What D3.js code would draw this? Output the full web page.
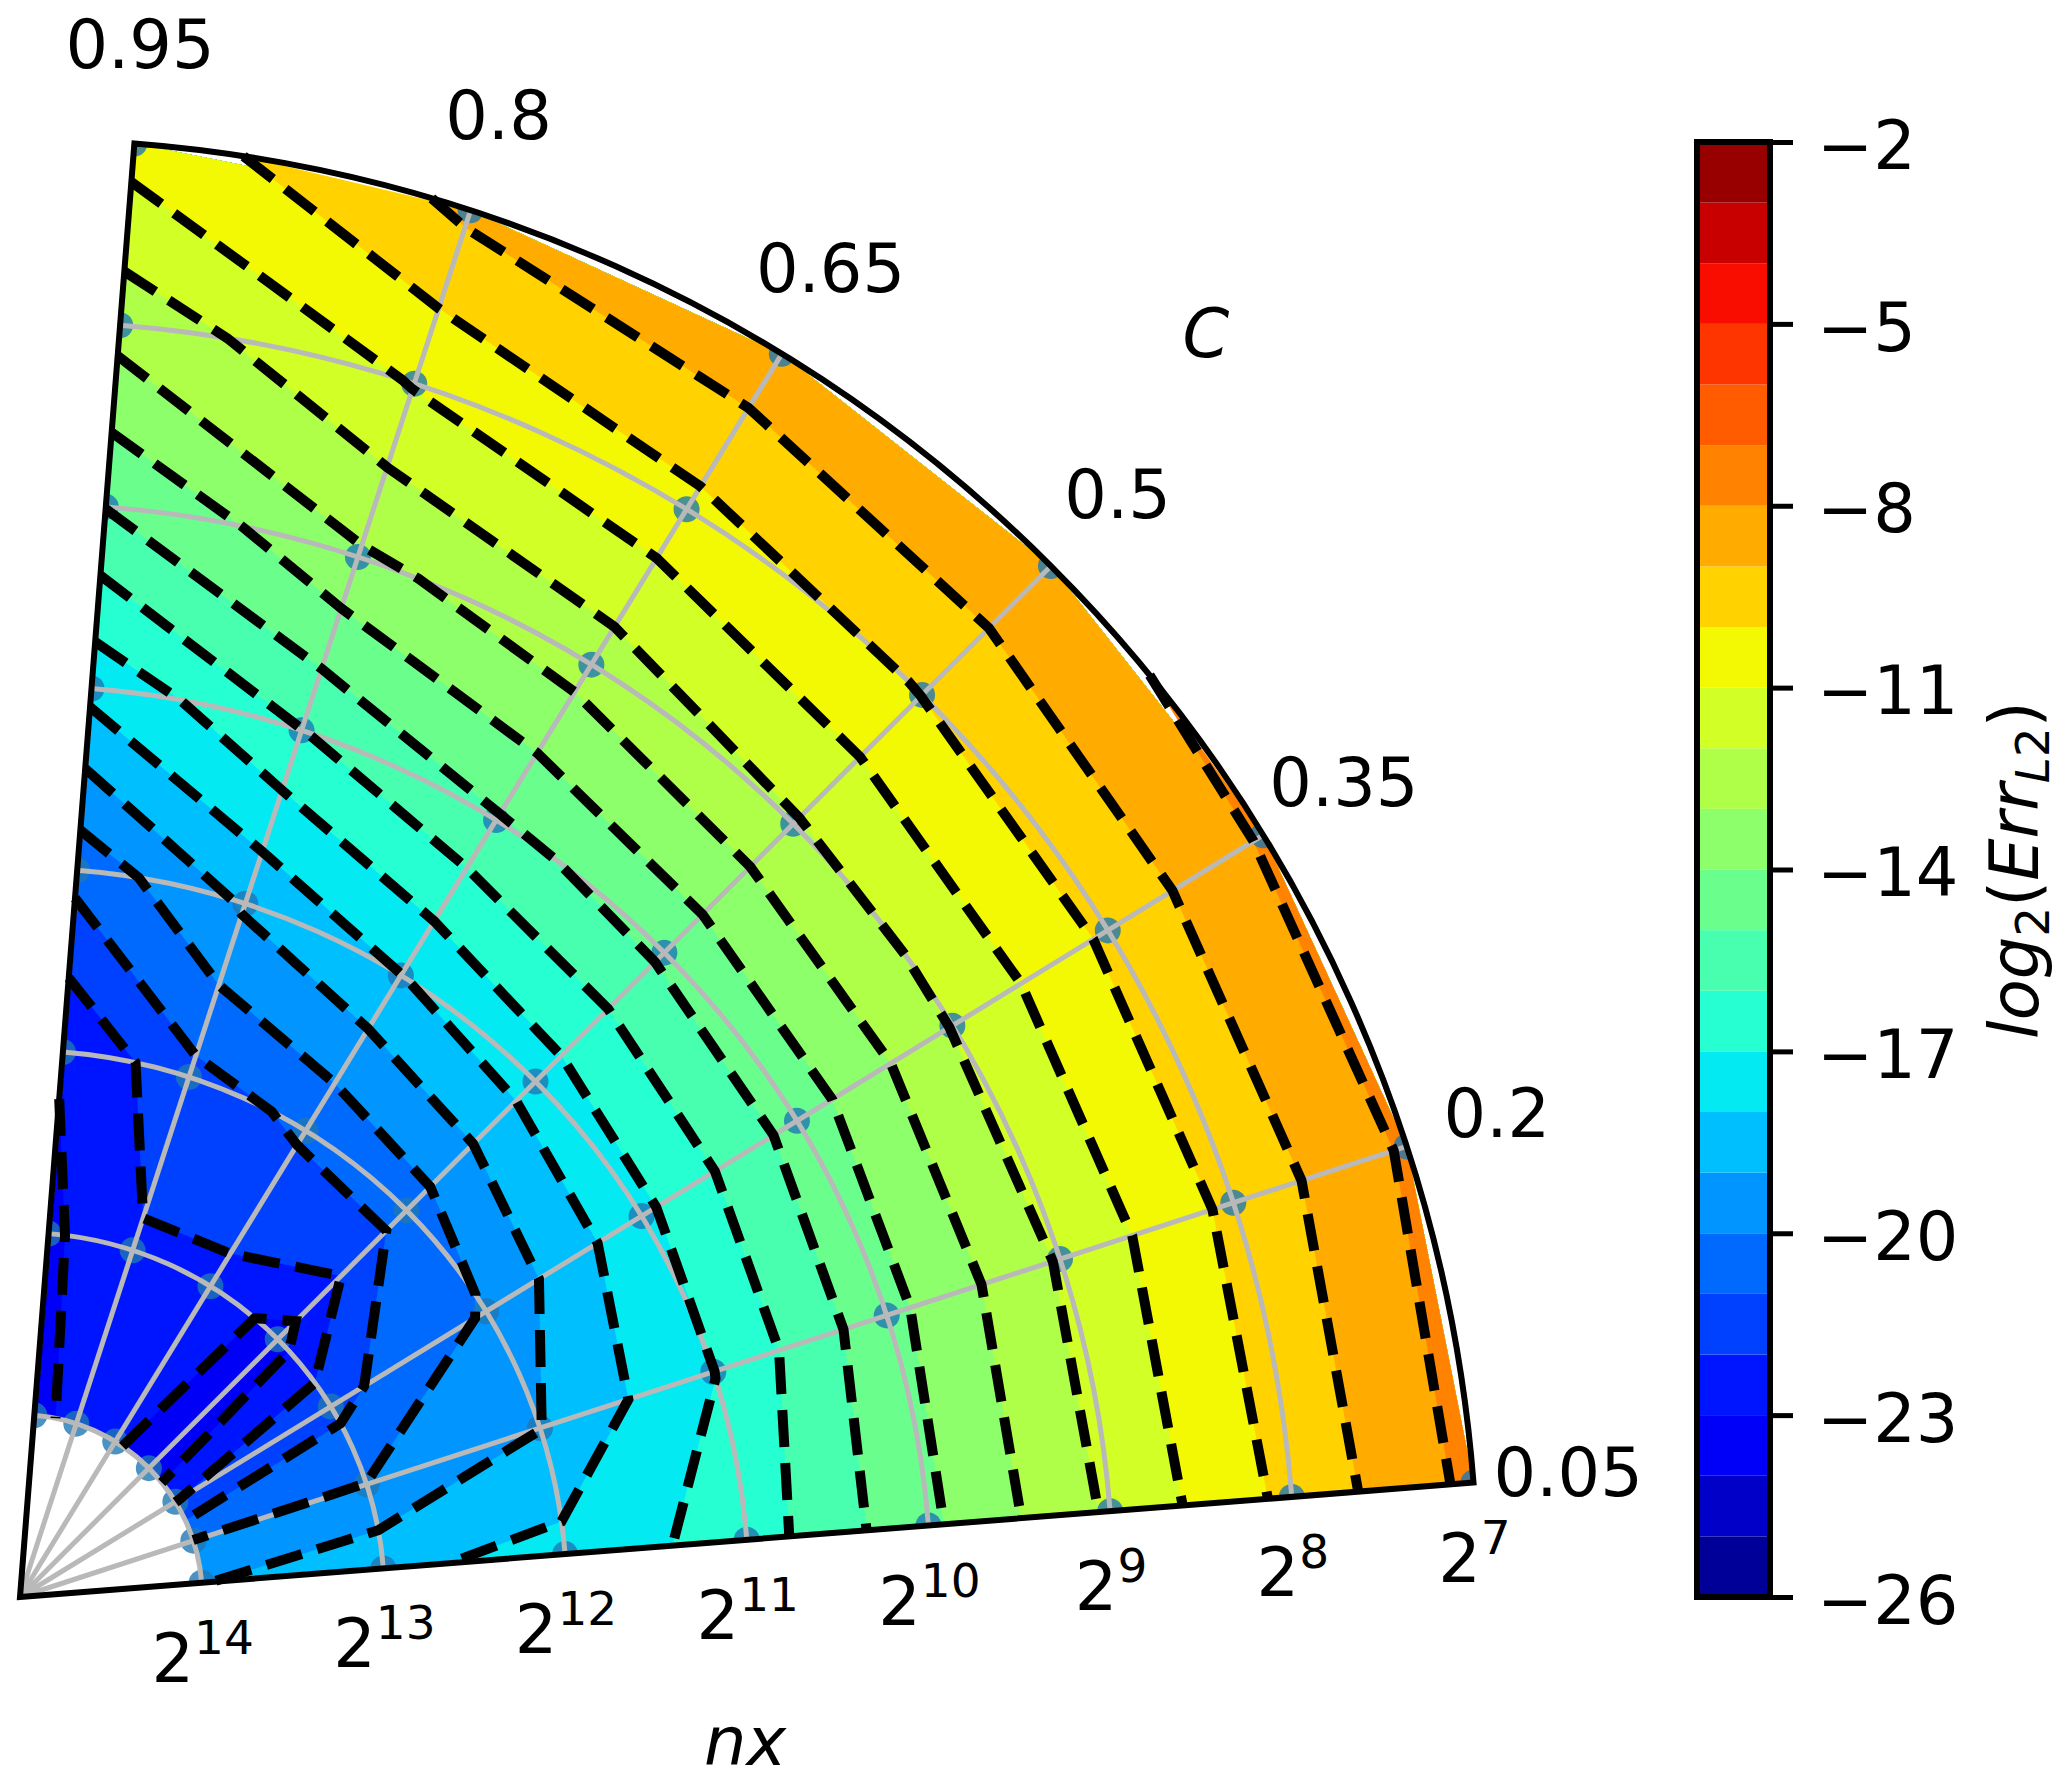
<!doctype html>
<html lang="en">
<head>
    <meta charset="UTF-8">
    <title>log2(Err L2) over nx and C</title>
    <script src="https://cdnjs.cloudflare.com/ajax/libs/d3/7.8.5/d3.min.js"></script>
    <style type="text/css">
        body {
            margin: 0;
            background: #fff;
        }

        text {
            font-family: "DejaVu Sans", sans-serif;
            font-size: 67px;
            fill: #000;
        }
    </style>
</head>
<body>

<script type="text/javascript">
    var nx_exp = [7, 8, 9, 10, 11, 12, 13, 14];
    var c_labels = ["0.05", "0.2", "0.35", "0.5", "0.65", "0.8", "0.95"];
    var c_values = [0.05, 0.2, 0.35, 0.5, 0.65, 0.8, 0.95];

    // log2(Err) per C, from nx = 2^7 to 2^14
    var err_c05 = [-7.75, -9.72, -11.85, -14.2, -16.55, -17.65, -18.2, -19.05];
    var err_c20 = [-7.86, -9.74, -11.9, -14.33, -17.02, -19.02, -19.98, -19.97];
    var err_c35 = [-7.88, -9.8, -11.95, -14.6, -17.25, -19.9, -21.3, -22.02];
    var err_c50 = [-8.09, -9.98, -12.1, -14.8, -17.55, -20.55, -23.4, -23.8];
    var err_c65 = [-8.31, -10.29, -12.55, -15.1, -18.02, -20.87, -22.3, -22.8];
    var err_c80 = [-8.79, -10.93, -13.15, -16.02, -18.85, -21.3, -22.16, -22.7];
    var err_c95 = [-10.57, -12.6, -14.97, -17.7, -20.65, -22.93, -23.2, -23.3];
    var err_rows = [err_c05, err_c20, err_c35, err_c50, err_c65, err_c80, err_c95];

    var levels = d3.range(-26, -2);
    var cbar_ticks = [-26, -23, -20, -17, -14, -11, -8, -5, -2];

    var w = 2067;
    var h = 1783;
    var cx = 20;
    var cy = 1597;
    var r_max = 1458;

    // matplotlib jet
    var jet_r = d3.scaleLinear().domain([0, 0.35, 0.66, 0.89, 1]).range([0, 0, 1, 1, 0.5]);
    var jet_g = d3.scaleLinear().domain([0, 0.125, 0.375, 0.64, 0.91, 1]).range([0, 0, 1, 1, 0, 0]);
    var jet_b = d3.scaleLinear().domain([0, 0.11, 0.34, 0.65, 1]).range([0.5, 1, 1, 0, 0]);

    function jet(t) {
        return d3.rgb(jet_r(t) * 255, jet_g(t) * 255, jet_b(t) * 255).formatHex();
    }

    function band_color(level) {
        return jet((level + 0.5 + 26) / 24);
    }

    var r_scale = d3.scaleLinear().domain([0, 8]).range([0, r_max]);
    var theta_scale = d3.scaleLinear().domain([0, 1]).range([0, Math.PI / 2]);

    // nx exponent -> radius units, 2^7 is outermost
    function nx_radius(e) {
        return r_scale(15 - e);
    }

    function polar(r, theta) {
        return [cx + r * Math.cos(theta), cy - r * Math.sin(theta)];
    }

    // d3.contours puts samples at x + 0.5, clamp so the polygons stop at the outer samples
    var n = nx_exp.length;
    var m = c_values.length;
    var grid_to_nx = d3.scaleLinear().domain([0.5, n - 0.5]).range([0, n - 1]).clamp(true);
    var grid_to_c = d3.scaleLinear().domain([0.5, m - 0.5]).range([0, m - 1]).clamp(true);
    var idx_to_exp = d3.scaleLinear().domain([0, n - 1]).range([nx_exp[0], nx_exp[n - 1]]);
    var idx_to_c = d3.scaleLinear().domain([0, m - 1]).range([c_values[0], c_values[m - 1]]);

    function grid_point(p) {
        return [grid_to_nx(p[0]), grid_to_c(p[1])];
    }

    function project(g) {
        return polar(nx_radius(idx_to_exp(g[0])), theta_scale(idx_to_c(g[1])));
    }

    var flat = [];
    err_rows.forEach(function (row) {
        row.forEach(function (v) {
            flat.push(v);
        });
    });

    var contours = d3.contours().size([n, m]).thresholds(levels)(flat);
    var line = d3.line();

    function fill_path(d) {
        var out = "";
        d.coordinates.forEach(function (poly) {
            poly.forEach(function (ring) {
                out += line(ring.map(function (p) {
                    return project(grid_point(p));
                })) + "Z";
            });
        });
        return out;
    }

    function on_edge(a, b) {
        if (a[0] === b[0] && (a[0] === 0 || a[0] === n - 1)) return true;
        if (a[1] === b[1] && (a[1] === 0 || a[1] === m - 1)) return true;
        return false;
    }

    // contour lines are the polygon rings minus whatever runs along the grid boundary
    function line_path(d) {
        var out = "";
        d.coordinates.forEach(function (poly) {
            poly.forEach(function (ring) {
                var pts = ring.map(grid_point);
                var count = pts.length - 1;
                var start = -1;
                for (var i = 0; i < count; i++) {
                    if (on_edge(pts[i], pts[i + 1])) {
                        start = i + 1;
                        break;
                    }
                }
                var current = [];
                var first = start < 0 ? 0 : start;
                for (var k = 0; k <= count; k++) {
                    var a = pts[(first + k) % count];
                    var b = pts[(first + k + 1) % count];
                    if (current.length === 0) current.push(a);
                    if (k === count || on_edge(a, b)) {
                        if (current.length > 1) out += line(current.map(project));
                        current = [];
                    } else {
                        current.push(b);
                    }
                }
            });
        });
        return out;
    }

    var svg = d3.select("body").append("svg").attr("width", w).attr("height", h)
        .style("display", "block");

    var a0 = -theta_scale(c_values[0]);
    var a1 = -theta_scale(c_values[m - 1]);

    function wedge() {
        var p = d3.path();
        p.moveTo(cx, cy);
        p.lineTo(cx + r_max * Math.cos(a0), cy + r_max * Math.sin(a0));
        p.arc(cx, cy, r_max, a0, a1, true);
        p.closePath();
        return p.toString();
    }

    svg.append("clipPath").attr("id", "wedge").append("path").attr("d", wedge());

    // filled bands
    svg.append("g").selectAll("path")
        .data(contours)
        .enter()
        .append("path")
        .attr("d", fill_path)
        .attr("fill", function (d) {
            return band_color(d.value);
        });

    // sample points
    var points = [];
    c_values.forEach(function (c) {
        nx_exp.forEach(function (e) {
            points.push(polar(nx_radius(e), theta_scale(c)));
        });
    });
    svg.append("g").attr("clip-path", "url(#wedge)").selectAll("circle")
        .data(points)
        .enter()
        .append("circle")
        .attr("cx", function (d) {
            return d[0];
        })
        .attr("cy", function (d) {
            return d[1];
        })
        .attr("r", 13)
        .attr("fill", "#1f77b4")
        .attr("fill-opacity", 0.8);

    // polar grid
    var grid = svg.append("g").attr("fill", "none").attr("stroke", "#b9b9b9").attr("stroke-width", 5);
    nx_exp.forEach(function (e) {
        var p = d3.path();
        p.arc(cx, cy, nx_radius(e), a0, a1, true);
        grid.append("path").attr("d", p.toString());
    });
    c_values.forEach(function (c) {
        grid.append("path").attr("d", line([[cx, cy], polar(r_max, theta_scale(c))]));
    });

    // dashed contour lines
    svg.append("g").selectAll("path")
        .data(contours)
        .enter()
        .append("path")
        .attr("d", line_path)
        .attr("fill", "none")
        .attr("stroke", "#000")
        .attr("stroke-width", 10)
        .attr("stroke-dasharray", "37 16");

    // frame
    svg.append("path").attr("d", wedge())
        .attr("fill", "none").attr("stroke", "#000").attr("stroke-width", 6)
        .attr("stroke-linejoin", "miter");

    // C tick labels
    svg.append("g").selectAll("text")
        .data(c_labels)
        .enter()
        .append("text")
        .attr("text-anchor", "middle")
        .attr("dominant-baseline", "central")
        .attr("x", function (d, i) {
            return polar(r_max + 97, theta_scale(c_values[i]))[0] - 2;
        })
        .attr("y", function (d, i) {
            return polar(r_max + 97, theta_scale(c_values[i]))[1] - 2;
        })
        .text(function (d) {
            return d;
        });

    // nx tick labels
    var nx_text = svg.append("g").selectAll("text")
        .data(nx_exp)
        .enter()
        .append("text")
        .attr("text-anchor", "middle")
        .attr("x", function (d) {
            return polar(nx_radius(d), theta_scale(c_values[0]))[0] + 1;
        })
        .attr("y", function (d) {
            return polar(nx_radius(d), theta_scale(c_values[0]))[1] + 99;
        });
    nx_text.append("tspan").text("2");
    nx_text.append("tspan").attr("dy", -28).style("font-size", "47px").text(function (d) {
        return d;
    });

    svg.append("text").attr("x", 745).attr("y", 1765).attr("text-anchor", "middle")
        .style("font-style", "italic").text("nx");
    svg.append("text").attr("x", 1206).attr("y", 357).attr("text-anchor", "middle")
        .style("font-style", "italic").text("C");

    // colorbar
    var cbar_x = 1697;
    var cbar_w = 73;
    var cbar_y = d3.scaleLinear().domain([-26, -2]).range([1597, 142]);

    svg.append("g").selectAll("rect")
        .data(levels)
        .enter()
        .append("rect")
        .attr("x", cbar_x)
        .attr("width", cbar_w)
        .attr("y", function (d) {
            return cbar_y(d + 1);
        })
        .attr("height", function (d) {
            return cbar_y(d) - cbar_y(d + 1);
        })
        .attr("fill", band_color);

    svg.append("rect").attr("x", cbar_x).attr("y", cbar_y(-2)).attr("width", cbar_w)
        .attr("height", cbar_y(-26) - cbar_y(-2))
        .attr("fill", "none").attr("stroke", "#000").attr("stroke-width", 6);

    var cbar_axis = d3.axisRight(cbar_y)
        .tickValues(cbar_ticks)
        .tickSize(23)
        .tickPadding(24)
        .tickFormat(function (d) {
            return "\u2212" + Math.abs(d);
        });
    var axis_g = svg.append("g").attr("transform", "translate(" + (cbar_x + cbar_w) + ",0)").call(cbar_axis);
    axis_g.select(".domain").remove();
    axis_g.selectAll("line").attr("stroke", "#000").attr("stroke-width", 5);
    axis_g.selectAll("text").attr("dy", "0.39em").style("font-size", "67px");

    var cbar_label = svg.append("text")
        .attr("transform", "translate(2038,870) rotate(-90)")
        .attr("text-anchor", "middle");
    cbar_label.append("tspan").style("font-style", "italic").text("log");
    cbar_label.append("tspan").attr("dy", 11).style("font-size", "47px").text("2");
    cbar_label.append("tspan").attr("dy", -11).text("(");
    cbar_label.append("tspan").style("font-style", "italic").text("Err");
    cbar_label.append("tspan").attr("dy", 11).style("font-size", "47px").style("font-style", "italic").text("L");
    cbar_label.append("tspan").style("font-size", "47px").text("2");
    cbar_label.append("tspan").attr("dy", -11).text(")");
</script>

</body>
</html>
